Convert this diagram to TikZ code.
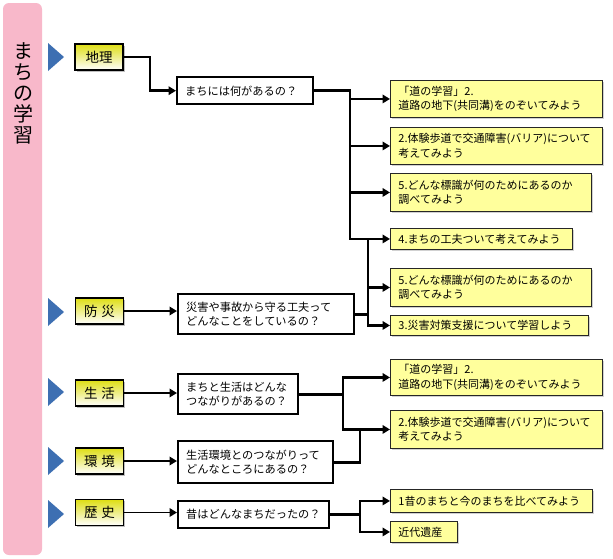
\documentclass[tikz,border=0pt]{standalone}
\usepackage{fontspec}
\setmainfont{Noto Sans CJK JP}
\usetikzlibrary{arrows.meta,shadows}
\definecolor{pinkbar}{RGB}{248,184,202}
\definecolor{tri}{RGB}{61,111,178}
\definecolor{caty}{RGB}{222,222,20}
\definecolor{ly}{RGB}{255,255,156}
\tikzset{
  cat/.style={draw=black, line width=1.6pt, top color=caty, bottom color=white,
    minimum width=48pt, minimum height=26pt, inner sep=0pt,
    font=\fontsize{13.5}{15}\selectfont,
    general shadow={fill=black!25, shadow xshift=1.5pt, shadow yshift=-1.5pt}},
  qbox/.style={draw=black, line width=2.4pt, fill=white, align=left, anchor=north west,
    inner xsep=8pt, inner ysep=0pt, font=\fontsize{11.2}{14.5}\selectfont},
  rbox/.style={draw=black!85, line width=0.9pt, fill=ly, align=left, anchor=north west,
    inner xsep=8pt, inner ysep=0pt, font=\fontsize{11}{14.5}\selectfont,
    general shadow={fill=black!18, shadow xshift=1.5pt, shadow yshift=-1.5pt}},
  bus/.style={line width=2.9pt, line join=miter, line cap=rect},
  arr/.style={line width=2.9pt, -{Triangle[length=7.5pt,width=8.5pt]}},
  carr/.style={line width=1.9pt, -{Triangle[length=7.5pt,width=8.5pt]}},
  tri/.style={fill=tri}
}
\begin{document}
\begin{tikzpicture}[x=1pt,y=-1pt]
\useasboundingbox[fill=white] (0,0) rectangle (613,558);
% side bar
\fill[pinkbar, rounded corners=6pt] (3,3) rectangle (42,555);
\node[font=\fontsize{20}{21}\selectfont, align=center, inner sep=0pt] (title) at (23,93) {ま\\ち\\の\\学\\習};
% triangles
\foreach \y in {57,312,392,461,514}{
  \fill[tri] (48,\y-14) -- (64,\y) -- (48,\y+14) -- cycle;
}
% category boxes
\node[cat] (c1) at (99,57) {地理};
\node[cat] (c2) at (99.5,311) {防\kern4pt 災};
\node[cat] (c3) at (99.5,393) {生\kern4pt 活};
\node[cat] (c4) at (99.5,461) {環\kern4pt 境};
\node[cat] (c5) at (99.5,512.5) {歴\kern4pt 史};
% question boxes
\node[qbox, text width=120pt, minimum height=27pt] (q1) at (176,76) {まちには何があるの？};
\node[qbox, text width=160pt, minimum height=40pt] (q2) at (177,293) {災害や事故から守る工夫って\\どんなことをしているの？};
\node[qbox, text width=104pt, minimum height=40pt] (q3) at (177,373) {まちと生活はどんな\\つながりがあるの？};
\node[qbox, text width=139pt, minimum height=42pt] (q4) at (177,440) {生活環境とのつながりって\\どんなところにあるの？};
\node[qbox, text width=135pt, minimum height=27pt] (q5) at (177,500) {昔はどんなまちだったの？};
% right boxes
\node[rbox, text width=196pt, minimum height=37pt] (b1) at (390,80) {「道の学習」2.\\道路の地下(共同溝)をのぞいてみよう};
\node[rbox, text width=196pt, minimum height=37pt] (b2) at (390,127) {2.体験歩道で交通障害(バリア)について\\考えてみよう};
\node[rbox, text width=185pt, minimum height=38pt] (b3) at (390,173) {5.どんな標識が何のためにあるのか\\調べてみよう};
\node[rbox, text width=166pt, minimum height=21pt] (b4) at (390,228) {4.まちの工夫ついて考えてみよう};
\node[rbox, text width=185pt, minimum height=38pt] (b5) at (390,268) {5.どんな標識が何のためにあるのか\\調べてみよう};
\node[rbox, text width=182pt, minimum height=20pt] (b6) at (390,315) {3.災害対策支援について学習しよう};
\node[rbox, text width=196pt, minimum height=36pt] (b7) at (390,359) {「道の学習」2.\\道路の地下(共同溝)をのぞいてみよう};
\node[rbox, text width=196pt, minimum height=38pt] (b8) at (390,410) {2.体験歩道で交通障害(バリア)について\\考えてみよう};
\node[rbox, text width=186pt, minimum height=23pt] (b9) at (390,489) {1昔のまちと今のまちを比べてみよう};
\node[rbox, text width=51pt, minimum height=21pt] (b10) at (390,521) {近代遺産};
% junction coordinates
\coordinate (j0) at (150,57);
\coordinate (j1) at (350,89);
\coordinate (j2) at (368,313);
\coordinate (j3) at (343,392);
\coordinate (j4) at (360,461);
\coordinate (j5) at (360,513);
% geography tree
\draw[bus] (c1.east) -- (j0) -- (j0 |- q1.west);
\draw[arr] (j0 |- q1.west) -- (q1.west);
\draw[bus] (q1.east) -- (j1 |- q1.east) -- (j1 |- b4.west);
\foreach \b in {b1,b2,b3,b4}{\draw[arr] (j1 |- \b.west) -- (\b.west);}
% disaster tree
\draw[carr] (c2.east) -- (c2.east -| q2.west);
\draw[bus] (q2.east) -- (j2 |- q2.east);
\draw[bus] (j2 |- b4.west) -- (j2 |- b6.west);
\foreach \b in {b5,b6}{\draw[arr] (j2 |- \b.west) -- (\b.west);}
% life / environment tree
\draw[carr] (c3.east) -- (c3.east -| q3.west);
\draw[carr] (c4.east) -- (c4.east -| q4.west);
\draw[bus] (q3.east) -- (j3 |- q3.east);
\draw[bus] (j3 |- b7.west) -- (j3 |- b8.west);
\foreach \b in {b7,b8}{\draw[arr] (j3 |- \b.west) -- (\b.west);}
\draw[bus] (q4.east) -- (j4 |- q4.east) -- (j4 |- b8.west);
% history tree
\draw[carr] (c5.east) -- (c5.east -| q5.west);
\draw[bus] (q5.east) -- (j5 |- q5.east);
\draw[bus] (j5 |- b9.west) -- (j5 |- b10.west);
\foreach \b in {b9,b10}{\draw[arr] (j5 |- \b.west) -- (\b.west);}
\end{tikzpicture}
\end{document}
